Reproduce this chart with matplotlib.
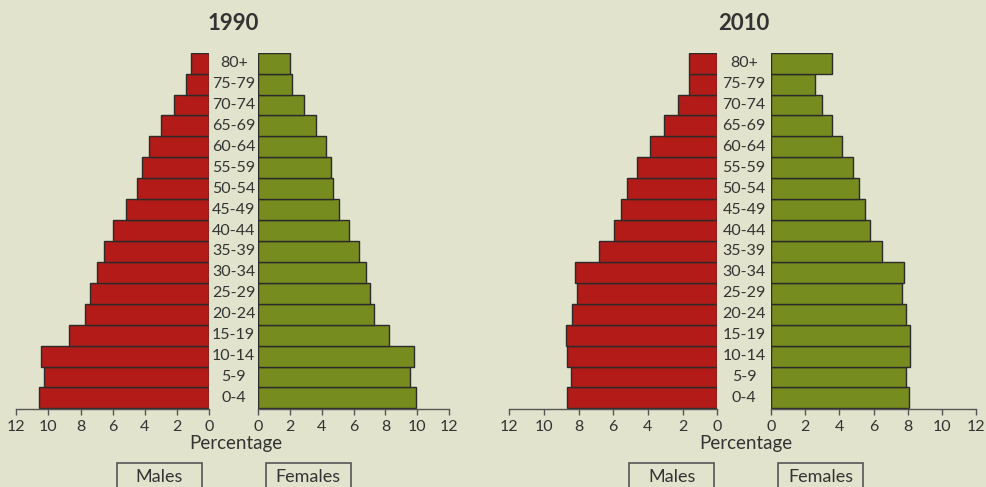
import matplotlib.pyplot as plt
import matplotlib.transforms as mtransforms
from matplotlib.patches import Rectangle

plt.rcParams['font.family'] = ['Lato', 'DejaVu Sans']

# age groups, youngest first (bottom of the pyramid)
age_groups = ['0-4', '5-9', '10-14', '15-19', '20-24', '25-29', '30-34', '35-39',
              '40-44', '45-49', '50-54', '55-59', '60-64', '65-69', '70-74', '75-79', '80+']

males_1990 = [10.6, 10.25, 10.45, 8.7, 7.7, 7.4, 7.0, 6.55, 5.95, 5.15, 4.5, 4.15, 3.75, 3.0, 2.15, 1.45, 1.15]
females_1990 = [9.95, 9.55, 9.8, 8.25, 7.3, 7.0, 6.75, 6.35, 5.7, 5.1, 4.7, 4.55, 4.25, 3.6, 2.85, 2.15, 2.0]

males_2010 = [8.65, 8.45, 8.65, 8.7, 8.4, 8.1, 8.2, 6.8, 5.95, 5.55, 5.2, 4.65, 3.9, 3.05, 2.25, 1.65, 1.65]
females_2010 = [8.05, 7.9, 8.1, 8.15, 7.9, 7.65, 7.8, 6.5, 5.8, 5.5, 5.15, 4.8, 4.15, 3.55, 3.0, 2.55, 3.55]

years = ['1990', '2010']
ticks = [0, 2, 4, 6, 8, 10, 12]

BG = '#e1e3cc'
RED = '#b21b17'
GREEN = '#768c1e'
EDGE = '#2b2b2b'
TEXT = '#333333'
AXIS = '#555555'

W, H = 987, 487
fig = plt.figure(figsize=(W / 100, H / 100), dpi=100, facecolor=BG)


def px_axes(x0, x1, y0, y1):
    # pixel box (top-left origin) -> figure axes
    ax = fig.add_axes([x0 / W, 1 - y1 / H, (x1 - x0) / W, (y1 - y0) / H])
    ax.set_facecolor('none')
    return ax


def style_axis(ax):
    for s in ['top', 'left', 'right']:
        ax.spines[s].set_visible(False)
    ax.spines['bottom'].set_color(AXIS)
    ax.spines['bottom'].set_linewidth(1.0)
    ax.set_yticks([])
    ax.set_xticks(ticks)
    ax.tick_params(axis='x', direction='out', length=4, color=AXIS, width=1.0,
                   labelsize=11.5, labelcolor=TEXT, pad=4)
    ax.set_ylim(-0.53, len(age_groups) - 0.5)


def fig_text(x, y, s, **kw):
    fig.text(x / W, 1 - y / H, s, ha='center', va='center', color=TEXT, **kw)


def legend_box(x0, x1, label):
    top = 463.3
    fig.add_artist(Rectangle((x0 / W, 1 - 492 / H), (x1 - x0) / W, (492 - top) / H,
                             transform=fig.transFigure, fill=False, ec=AXIS, lw=1.2))
    fig_text((x0 + x1) / 2, 476.5, label, fontsize=13)


# pixel layouts: male axis left/right, female axis left/right
layouts = [
    (16.3, 209.0, 258.3, 449.0),
    (509.3, 717.3, 771.0, 976.3),
]
boxes = [
    ((116.7, 202.0), (265.7, 351.0)),
    ((629.0, 714.3), (777.7, 863.3)),
]
data = [(males_1990, females_1990), (males_2010, females_2010)]

ypos = list(range(len(age_groups)))

for (mx0, mx1, fx0, fx1), year, (males, females), (mbox, fbox) in zip(layouts, years, data, boxes):
    ax_m = px_axes(mx0, mx1, 52.7, 409.0)
    ax_f = px_axes(fx0, fx1, 52.7, 409.0)

    ax_m.barh(ypos, males, height=1.0, color=RED, edgecolor=EDGE, linewidth=1.0)
    ax_f.barh(ypos, females, height=1.0, color=GREEN, edgecolor=EDGE, linewidth=1.0)

    ax_m.set_xlim(12, 0)
    ax_f.set_xlim(0, 12)
    style_axis(ax_m)
    style_axis(ax_f)

    centre = (mx1 + fx0) / 2
    trans = mtransforms.blended_transform_factory(fig.transFigure, ax_m.transData)
    for y, label in zip(ypos, age_groups):
        ax_m.text(centre / W, y, label, transform=trans, ha='center', va='center',
                  fontsize=11.5, color=TEXT, clip_on=False)

    fig_text(centre, 23, year, fontsize=16, fontweight='bold')
    fig_text(centre + 2, 443, 'Percentage', fontsize=13.5)
    legend_box(mbox[0], mbox[1], 'Males')
    legend_box(fbox[0], fbox[1], 'Females')

fig.savefig('out.png', dpi=100, facecolor=BG)
